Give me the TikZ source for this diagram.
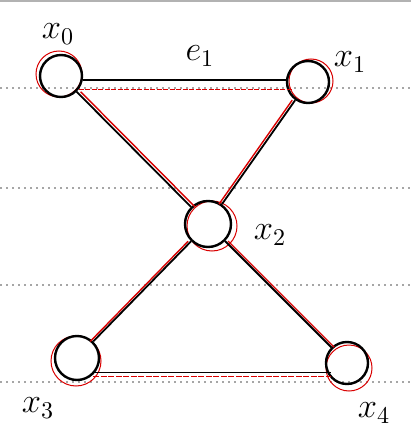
\documentclass[tikz,border=0pt]{standalone}
\usepackage{graphicx}
\usetikzlibrary{calc}
\newcommand{\glab}[1]{\scalebox{2.4}{$#1$}}
\begin{document}
\begin{tikzpicture}[x=1pt,y=-1pt,
  vert/.style={circle,draw=black,line width=2.4pt,minimum size=#1,inner sep=0pt},
  vert/.default=42pt,
  redring/.style={circle,draw=red!85!black,line width=1pt,minimum size=#1,inner sep=0pt},
  edge/.style={draw=black,line width=1.8pt},
  redge/.style={draw=red!85!black,line width=1.4pt},
  rule/.style={draw=gray!70,line width=1.2pt,dash pattern=on 2pt off 4pt},
  lbl/.style={font=\Large}]
\useasboundingbox (0,0) rectangle (411,438);
\fill[white] (0,0) rectangle (411,438);
\draw[gray!60,line width=2pt] (0,1) -- (411,1);
% notebook rules
\foreach \y in {88,188,285,382}{\draw[rule] (0,\y) -- (411,\y);}
% red rings
\node[redring=46pt] (r0) at (59,74) {};
\node[redring=44pt] (r1) at (311,81) {};
\node[redring=50pt] (r2) at (212,226) {};
\node[redring=50pt] (r3) at (76,361) {};
\node[redring=46pt] (r4) at (349,368) {};
% vertices
\node[vert=42pt] (x0) at (61,76) {};
\node[vert=42pt] (x1) at (308,82) {};
\node[vert=46pt] (x2) at (208,224) {};
\node[vert=44pt] (x3) at (77,358) {};
\node[vert=42pt] (x4) at (347,363) {};
% red companion edges
\draw[redge,dash pattern=on 5pt off 1.5pt] ($(x0.south east)+(2,-2)$) coordinate (t0) -- (t0 -| x1.south west);
\draw[redge,transform canvas={xshift=4pt}] (x0) -- (x2);
\draw[redge,transform canvas={xshift=-3pt}] (x1) -- (x2);
\draw[redge,transform canvas={xshift=-3pt}] (x2) -- (x3);
\draw[redge,transform canvas={xshift=3pt}] (x2) -- (x4);
\draw[redge,dash pattern=on 6pt off 1.5pt] ($(x3.south east)+(0,2)$) coordinate (s3) -- (s3 -| x4.south west);
% edges
\draw[edge] ($(x0.east)+(0,4)$) coordinate (a0) -- (a0 -| x1.west);
\draw[edge] (x0) -- (x2);
\draw[edge] (x1) -- (x2);
\draw[edge] (x2) -- (x3);
\draw[edge] (x2) -- (x4);
\draw[edge] ($(x3.south east)+(2,-2)$) coordinate (b3) -- (b3 -| x4.south west);
% labels
\node[lbl] (l0) at (58,34) {\glab{x_0}};
\node[lbl] (l1) at (350,62) {\glab{x_1}};
\node[lbl] (l2) at (270,235) {\glab{x_2}};
\node[lbl] (l3) at (38,408) {\glab{x_3}};
\node[lbl] (l4) at (374,413) {\glab{x_4}};
\node[lbl] (e1) at (200,56) {\glab{e_1}};
\end{tikzpicture}
\end{document}
